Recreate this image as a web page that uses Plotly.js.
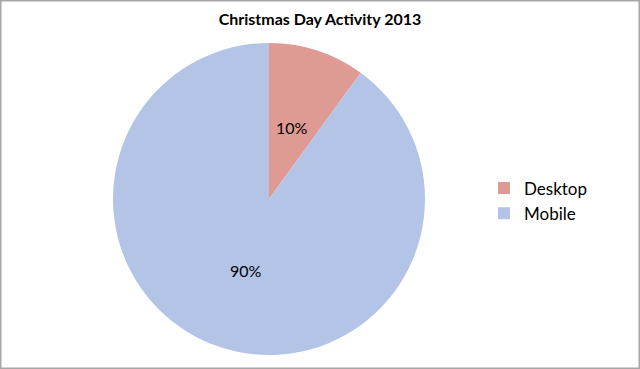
<!DOCTYPE html>
<html>
<head>
<meta charset="utf-8">
<script src="https://cdn.plot.ly/plotly-3.0.1.min.js"></script>
<style>html,body{margin:0;padding:0;background:#fff;}#chart{width:640px;height:369px;}</style>
</head>
<body>
<div id="chart"></div>
<script>
const categories = ["Desktop", "Mobile"];
const values = [10, 90];
const colors = ["#df9b93", "#b3c4e7"];

const W = 640, H = 369;
const cx = 269, cy = 199, R = 156;
const FONT = "Lato, 'Open Sans', sans-serif";

const trace = {
  type: "pie",
  labels: categories,
  values: values,
  sort: false,
  direction: "clockwise",
  rotation: 0,
  marker: {colors: colors, line: {width: 0}},
  textinfo: "none",
  hoverinfo: "none",
  domain: {x: [(cx - R) / W, (cx + R) / W], y: [1 - (cy + R) / H, 1 - (cy - R) / H]}
};

// percentage labels placed at the middle angle of each slice, about half-way out
const total = values.reduce((a, b) => a + b, 0);
let cum = 0;
const annotations = values.map(v => {
  const mid = (cum + v / 2) / total * 2 * Math.PI;
  cum += v;
  const r = 0.48 * R;
  const px = cx + r * Math.sin(mid);
  const py = cy - r * Math.cos(mid);
  return {
    xref: "paper", yref: "paper", x: px / W, y: 1 - py / H,
    xanchor: "center", yanchor: "middle", showarrow: false,
    text: Math.round(v / total * 100) + "%",
    font: {family: FONT, size: 16, color: "#000"}
  };
});

const layout = {
  width: W,
  height: H,
  margin: {l: 0, r: 0, t: 0, b: 0},
  paper_bgcolor: "#fff",
  title: {
    text: "<b>Christmas Day Activity 2013</b>",
    x: 0.5, xanchor: "center", y: 1 - 19 / H, yanchor: "middle",
    font: {family: FONT, size: 16, color: "#000"}
  },
  showlegend: true,
  legend: {
    x: 484 / W, xanchor: "left", y: 1 - 201 / H, yanchor: "middle",
    font: {family: FONT, size: 17, color: "#000"},
    itemwidth: 30, traceorder: "normal"
  },
  annotations: annotations,
  shapes: [{
    type: "rect", xref: "paper", yref: "paper",
    x0: 0, x1: 1, y0: 0, y1: 1,
    line: {color: "#a6a6a6", width: 3}
  }]
};

Plotly.newPlot("chart", [trace], layout, {displayModeBar: false, staticPlot: true});
</script>
</body>
</html>
